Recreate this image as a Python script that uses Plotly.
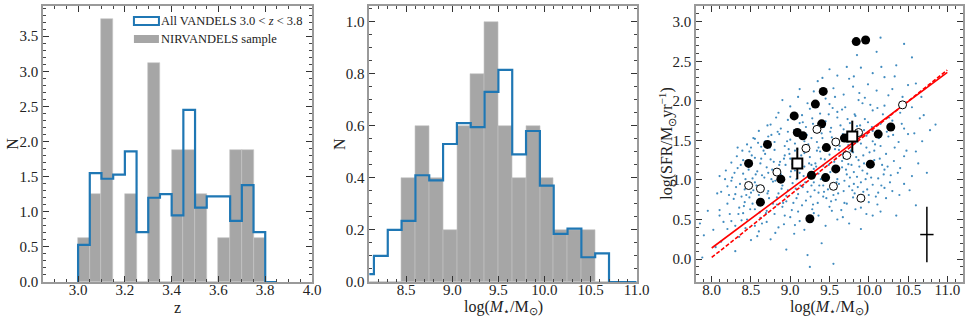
import plotly.graph_objects as go

# ---- panel 1: redshift histograms (bin width 0.05)
z_edges = [3.0, 3.05, 3.1, 3.15, 3.2, 3.25, 3.3, 3.35, 3.4, 3.45, 3.5,
           3.55, 3.6, 3.65, 3.7, 3.75, 3.8, 3.85]
z_nirv = [0.625, 1.25, 3.75, 0.0, 1.25, 0.0, 3.125, 0.0, 1.875, 1.875,
          1.25, 0.0, 0.625, 1.875, 1.875, 0.625, 0.0]
z_all = [0.53, 1.55, 1.47, 1.53, 1.86, 0.71, 1.20, 1.25, 0.95, 2.45,
         1.06, 1.22, 1.22, 0.87, 1.38, 0.71, 0.0]

# ---- panel 2: stellar mass histograms (bin width 0.15)
m_edges = [8.0, 8.15, 8.3, 8.45, 8.6, 8.75, 8.9, 9.05, 9.2, 9.35, 9.5,
           9.65, 9.8, 9.95, 10.1, 10.25, 10.4, 10.55, 10.7, 10.85, 11.0]
m_nirv = [0.0, 0.0, 0.0, 0.4, 0.6, 0.4, 0.2, 0.6, 0.8, 1.0, 0.6,
          0.4, 0.6, 0.4, 0.2, 0.2, 0.2, 0.0, 0.0, 0.0]
m_all = [0.03, 0.10, 0.20, 0.235, 0.41, 0.39, 0.53, 0.61, 0.595, 0.73,
         0.815, 0.49, 0.58, 0.37, 0.185, 0.205, 0.095, 0.11, 0.0, 0.0]

# ---- panel 3: main sequence
# all VANDELS galaxies (log M, log SFR), read off the cloud
cloud = [
    (7.88, 0.02), (9.25, -0.10), (9.55, -0.06), (9.22, 0.05), (8.05, 0.15), (8.30, 0.10), (8.95, 0.12),
    (7.90, 0.30), (8.12, 0.22), (8.35, 0.28), (8.60, 0.35), (8.75, 0.25), (9.05, 0.32), (9.40, 0.20),
    (9.90, 0.38), (8.20, 0.38), (8.50, 0.24),
    (7.85, 0.45), (8.10, 0.55), (8.25, 0.48), (8.40, 0.58), (8.55, 0.42), (8.62, 0.52), (8.70, 0.47),
    (8.80, 0.57), (8.92, 0.44), (9.00, 0.53), (9.12, 0.48), (9.30, 0.58), (9.45, 0.42), (9.60, 0.50),
    (10.05, 0.55), (10.35, 0.55), (8.45, 0.50), (8.85, 0.40), (9.75, 0.45), (8.30, 0.42),
    (8.10, 0.62), (8.20, 0.70), (8.28, 0.76), (8.35, 0.65), (8.42, 0.72), (8.48, 0.78), (8.55, 0.63),
    (8.60, 0.68), (8.65, 0.75), (8.70, 0.61), (8.78, 0.70), (8.83, 0.78), (8.90, 0.66), (8.95, 0.73),
    (9.02, 0.62), (9.08, 0.77), (9.15, 0.68), (9.20, 0.74), (9.28, 0.63), (9.35, 0.71), (9.42, 0.79),
    (9.50, 0.66), (9.58, 0.75), (9.65, 0.62), (9.72, 0.70), (9.80, 0.78), (9.90, 0.65), (10.00, 0.72),
    (10.15, 0.60), (10.60, 0.68), (8.52, 0.70), (9.10, 0.60), (8.38, 0.79),
    (8.12, 0.85), (8.20, 0.92), (8.30, 0.82), (8.36, 0.95), (8.42, 0.88), (8.50, 0.84), (8.55, 0.97),
    (8.60, 0.81), (8.66, 0.90), (8.72, 0.86), (8.78, 0.98), (8.85, 0.83), (8.90, 0.93), (8.97, 0.87),
    (9.03, 0.96), (9.10, 0.82), (9.16, 0.91), (9.22, 0.85), (9.30, 0.97), (9.36, 0.84), (9.42, 0.93),
    (9.48, 0.88), (9.55, 0.81), (9.62, 0.95), (9.68, 0.86), (9.75, 0.92), (9.82, 0.83), (9.90, 0.97),
    (9.98, 0.88), (10.05, 0.94), (10.12, 0.84), (10.20, 0.90), (10.30, 0.86), (10.45, 0.95), (8.25, 0.99),
    (8.95, 0.80), (9.45, 0.99), (9.58, 0.89), (10.00, 0.81),
    (8.10, 1.05), (8.18, 1.12), (8.26, 1.03), (8.33, 1.15), (8.40, 1.08), (8.46, 1.18), (8.52, 1.02),
    (8.58, 1.11), (8.64, 1.06), (8.70, 1.16), (8.76, 1.01), (8.82, 1.13), (8.88, 1.07), (8.94, 1.19),
    (9.00, 1.04), (9.06, 1.12), (9.12, 1.09), (9.18, 1.17), (9.24, 1.03), (9.30, 1.14), (9.36, 1.08),
    (9.42, 1.18), (9.48, 1.05), (9.54, 1.13), (9.60, 1.01), (9.66, 1.16), (9.72, 1.07), (9.78, 1.19),
    (9.85, 1.04), (9.92, 1.12), (9.98, 1.08), (10.05, 1.17), (10.12, 1.02), (10.20, 1.13), (10.28, 1.06),
    (10.40, 1.15), (10.55, 1.05), (8.72, 1.09), (9.27, 1.19), (9.51, 1.10), (9.81, 1.10), (8.43, 1.01),
    (8.25, 1.22), (8.32, 1.30), (8.40, 1.25), (8.48, 1.36), (8.55, 1.28), (8.62, 1.21), (8.68, 1.33),
    (8.75, 1.26), (8.80, 1.38), (8.87, 1.23), (8.93, 1.31), (9.00, 1.27), (9.06, 1.37), (9.12, 1.22),
    (9.18, 1.34), (9.25, 1.29), (9.32, 1.21), (9.38, 1.36), (9.44, 1.26), (9.50, 1.32), (9.56, 1.23),
    (9.62, 1.38), (9.68, 1.28), (9.74, 1.20), (9.80, 1.35), (9.87, 1.25), (9.93, 1.31), (10.00, 1.22),
    (10.07, 1.37), (10.14, 1.27), (10.22, 1.33), (10.32, 1.24), (10.45, 1.30), (10.60, 1.36), (9.03, 1.20),
    (9.47, 1.39), (9.66, 1.24), (8.98, 1.39),
    (8.45, 1.45), (8.55, 1.52), (8.63, 1.42), (8.72, 1.55), (8.80, 1.48), (8.86, 1.58), (8.93, 1.43),
    (9.00, 1.51), (9.06, 1.46), (9.13, 1.57), (9.20, 1.44), (9.27, 1.53), (9.34, 1.48), (9.40, 1.59),
    (9.47, 1.42), (9.53, 1.54), (9.60, 1.47), (9.67, 1.58), (9.74, 1.44), (9.82, 1.52), (9.90, 1.46),
    (9.97, 1.56), (10.05, 1.49), (10.15, 1.43), (10.25, 1.55), (10.38, 1.48), (10.50, 1.58), (9.36, 1.41),
    (9.71, 1.50),
    (8.60, 1.62), (8.75, 1.70), (8.88, 1.65), (8.97, 1.76), (9.05, 1.63), (9.12, 1.72), (9.20, 1.67),
    (9.28, 1.78), (9.35, 1.61), (9.45, 1.74), (9.52, 1.66), (9.60, 1.79), (9.68, 1.64), (9.76, 1.72),
    (9.85, 1.68), (9.95, 1.77), (10.05, 1.62), (10.15, 1.71), (10.30, 1.75), (10.45, 1.65), (10.65, 1.78),
    (10.85, 1.70),
    (8.85, 1.85), (9.00, 1.93), (9.15, 1.82), (9.25, 1.90), (9.38, 1.84), (9.50, 1.96), (9.60, 1.86),
    (9.70, 1.92), (9.82, 1.83), (9.92, 1.97), (10.05, 1.88), (10.20, 1.94), (10.40, 1.85), (10.55, 1.92),
    (10.70, 1.82),
    (9.10, 2.05), (9.30, 2.12), (9.45, 2.03), (9.55, 2.16), (9.68, 2.08), (9.80, 2.18), (9.95, 2.04),
    (10.10, 2.13), (10.25, 2.07), (10.50, 2.20), (9.88, 2.10),
    (9.35, 2.25), (9.60, 2.32), (9.75, 2.28), (9.90, 2.42), (10.05, 2.35), (10.20, 2.30), (10.35, 2.45),
    (10.60, 2.22), (9.50, 2.40),
    (10.15, 2.80), (10.45, 2.72), (10.55, 2.55), (9.85, 2.58), (10.10, 2.62),
    # second pass over the denser core
    (8.57, 0.93), (8.63, 1.27), (8.69, 0.58), (8.74, 1.41), (8.81, 0.99), (8.86, 1.19), (8.91, 0.71),
    (8.96, 1.49), (9.01, 1.11), (9.07, 0.89), (9.11, 1.63), (9.14, 1.31), (9.19, 0.97), (9.23, 1.45),
    (9.26, 0.79), (9.29, 1.71), (9.33, 1.17), (9.37, 0.93), (9.41, 1.53), (9.44, 1.07), (9.49, 1.83),
    (9.52, 0.73), (9.57, 1.39), (9.61, 1.15), (9.64, 1.69), (9.69, 0.99), (9.73, 1.59), (9.77, 1.37),
    (9.83, 1.81), (9.86, 0.91), (9.91, 1.57), (9.94, 1.21), (9.99, 1.73), (10.03, 1.03), (10.08, 1.45),
    (10.11, 1.91), (10.17, 1.19), (10.23, 1.61), (10.27, 0.97), (10.33, 1.41), (8.41, 0.67), (8.47, 1.13),
    (8.53, 0.87), (8.59, 1.47), (8.67, 1.03), (8.73, 0.77), (8.79, 1.23), (8.84, 1.61), (8.89, 0.89),
    (8.99, 1.33), (9.04, 0.71), (9.09, 1.39), (9.17, 1.05), (9.21, 1.57), (9.31, 0.87), (9.39, 1.27),
    (9.46, 0.77), (9.51, 1.61), (9.59, 0.97), (9.63, 1.43), (9.71, 1.13), (9.79, 0.87), (9.84, 1.29),
    (9.89, 1.69), (9.96, 1.01), (10.01, 1.35), (10.09, 0.79), (10.13, 1.53), (10.19, 1.07), (10.26, 1.79),
    (8.37, 1.19), (8.44, 0.81), (8.51, 1.31), (8.56, 1.07), (8.61, 0.59), (8.68, 1.49), (8.77, 1.13),
    (8.83, 0.69), (8.92, 1.27), (8.97, 1.61), (9.04, 1.23), (9.13, 0.93), (9.18, 1.49), (9.24, 1.21),
    (9.29, 0.69), (9.34, 1.37), (9.39, 1.01), (9.43, 1.67), (9.49, 1.19), (9.56, 1.51), (9.61, 0.83),
    (9.67, 1.33), (9.73, 1.77), (9.76, 1.03), (9.83, 1.47), (9.88, 1.17), (9.93, 0.85), (9.97, 1.41),
    (10.04, 1.67), (10.16, 0.93), (8.22, 0.81), (8.29, 1.09), (8.34, 0.57), (8.39, 1.37), (8.46, 0.91),
    (8.53, 1.53), (8.66, 1.37), (8.71, 0.83), (8.76, 1.57), (8.87, 1.09), (9.02, 1.81), (9.08, 1.01),
    (9.16, 1.73), (9.27, 0.93), (9.32, 1.63), (9.43, 0.85), (9.54, 1.91), (9.58, 1.27), (9.66, 1.89),
    (9.69, 0.71), (9.78, 1.61), (9.81, 0.95), (9.87, 2.01), (9.94, 1.63), (10.02, 1.95), (10.07, 1.25),
    (10.18, 1.83), (10.24, 1.17), (10.31, 1.57), (10.37, 1.09), (10.42, 1.71), (10.48, 1.37), (10.52, 0.87),
    (10.58, 1.59), (10.63, 1.21), (10.68, 1.49), (10.74, 1.09), (10.78, 1.63), (10.43, 2.05), (10.30, 2.15),
    (8.15, 0.47), (8.23, 0.57), (8.31, 0.91), (8.43, 0.39), (8.49, 0.63), (8.58, 0.29), (8.64, 0.45),
    (8.81, 0.33), (8.93, 0.55), (9.06, 0.43), (9.18, 0.37), (9.27, 0.47), (9.36, 0.55), (9.53, 0.61),
    (9.67, 0.53), (9.83, 0.63), (9.97, 0.57), (10.11, 0.69), (10.22, 0.77), (10.39, 0.81), (7.95, 0.61),
    (8.02, 0.37), (8.07, 0.83), (8.17, 1.01), (8.33, 1.41), (8.38, 0.49), (8.50, 1.41), (8.71, 1.69),
    (8.82, 1.79), (8.90, 2.01), (9.12, 2.15), (9.22, 1.97), (9.41, 2.29), (9.57, 2.05), (9.72, 2.43),
    (9.81, 2.31), (9.99, 2.21), (10.16, 2.43), (10.33, 2.31), (10.67, 2.05),
]
cloud_mass = [p[0] for p in cloud]
cloud_sfr = [p[1] for p in cloud]

# NIRVANDELS objects: filled and open symbols
filled_mass = [8.47, 8.62, 8.71, 8.88, 9.05, 9.09, 9.16, 9.25, 9.27, 9.32, 9.40,
               9.42, 9.45, 9.46, 9.58, 9.69, 9.73, 9.84, 9.96, 10.02, 10.12, 10.28]
filled_sfr = [1.21, 0.72, 1.45, 1.01, 1.81, 1.60, 1.56, 0.51, 1.06, 1.96, 1.71,
              2.12, 1.03, 1.41, 1.14, 1.53, 1.53, 2.75, 2.77, 1.20, 1.58, 1.67]
open_mass = [8.47, 8.62, 8.83, 9.20, 9.34, 9.55, 9.58, 9.72, 9.87, 9.90, 10.43]
open_sfr = [0.93, 0.89, 1.10, 1.40, 1.64, 0.92, 1.48, 1.31, 1.60, 0.77, 1.95]

# stacked points
stack_mass = [9.09, 9.79]
stack_sfr = [1.21, 1.55]
stack_err = [0.20, 0.20]

# typical uncertainty
err_mass, err_sfr = [10.74], [0.31]
err_dx, err_dy = [0.085], [0.35]

# main-sequence relations
fit_mass = [8.0, 11.0]
fit_solid = [0.14, 2.36]
fit_dashed = [0.02, 2.39]


def step_xy(edges, vals):
    xs = [edges[0]] + edges[:-1] + [edges[-1]]
    ys = [0.0] + vals + [0.0]
    return xs, ys


def centers(edges):
    return [(a + b) / 2 for a, b in zip(edges[:-1], edges[1:])]


GRAY = "#a6a6a6"
BLUE = "#1f77b4"
FONT = "Liberation Serif"
FRAME = "#9a9a9a"
TXT = "#222"

fig = go.Figure()

# panel 1
fig.add_trace(go.Bar(x=centers(z_edges), y=z_nirv, width=0.05,
                     marker=dict(color=GRAY, line=dict(color="#c4c4c4", width=0.6)),
                     xaxis="x", yaxis="y", showlegend=False))
zx, zy = step_xy(z_edges, z_all)
fig.add_trace(go.Scatter(x=zx, y=zy, mode="lines", line_shape="hv",
                         line=dict(color=BLUE, width=2.2),
                         xaxis="x", yaxis="y", showlegend=False))

# panel 2
fig.add_trace(go.Bar(x=centers(m_edges), y=m_nirv, width=0.15,
                     marker=dict(color=GRAY, line=dict(color="#c4c4c4", width=0.6)),
                     xaxis="x2", yaxis="y2", showlegend=False))
mx, my = step_xy(m_edges, m_all)
fig.add_trace(go.Scatter(x=mx, y=my, mode="lines", line_shape="hv",
                         line=dict(color=BLUE, width=2.2),
                         xaxis="x2", yaxis="y2", showlegend=False))

# panel 3
fig.add_trace(go.Scatter(x=cloud_mass, y=cloud_sfr, mode="markers",
                         marker=dict(size=2.2, color=BLUE, opacity=0.85),
                         xaxis="x3", yaxis="y3", showlegend=False))
fig.add_trace(go.Scatter(x=fit_mass, y=fit_solid, mode="lines",
                         line=dict(color="red", width=1.6),
                         xaxis="x3", yaxis="y3", showlegend=False))
fig.add_trace(go.Scatter(x=fit_mass, y=fit_dashed, mode="lines",
                         line=dict(color="red", width=1.6, dash="4px,2px"),
                         xaxis="x3", yaxis="y3", showlegend=False))
fig.add_trace(go.Scatter(x=filled_mass, y=filled_sfr, mode="markers",
                         marker=dict(size=9, color="black"),
                         xaxis="x3", yaxis="y3", showlegend=False))
fig.add_trace(go.Scatter(x=open_mass, y=open_sfr, mode="markers",
                         marker=dict(size=8, color="white", line=dict(color="black", width=1)),
                         xaxis="x3", yaxis="y3", showlegend=False))
fig.add_trace(go.Scatter(x=stack_mass, y=stack_sfr, mode="markers",
                         error_y=dict(type="data", array=stack_err, color="black",
                                      thickness=2, width=0),
                         marker=dict(symbol="square", size=10, color="white",
                                     line=dict(color="black", width=2)),
                         xaxis="x3", yaxis="y3", showlegend=False))
fig.add_trace(go.Scatter(x=err_mass, y=err_sfr, mode="markers",
                         error_x=dict(type="data", array=err_dx, color="black",
                                      thickness=1.5, width=0),
                         error_y=dict(type="data", array=err_dy, color="black",
                                      thickness=1.5, width=0),
                         marker=dict(size=1, color="black"),
                         xaxis="x3", yaxis="y3", showlegend=False))


def ax(domain, rng, dtick, minor, anchor, standoff=0):
    return dict(domain=domain, range=rng, dtick=dtick, tick0=0, tickformat=".1f",
                ticks="inside", ticklen=6, tickwidth=1.2, tickcolor="#333",
                minor=dict(dtick=minor, tick0=0, ticks="inside", ticklen=3,
                           tickwidth=1, tickcolor="#444"),
                showline=True, linecolor=FRAME, linewidth=1.5, mirror="allticks",
                showgrid=False, zeroline=False, anchor=anchor, automargin=False,
                ticklabelstandoff=standoff,
                tickfont=dict(family=FONT, size=15, color=TXT))


fig.update_layout(
    width=969, height=323,
    margin=dict(l=43, r=6, t=6, b=41, autoexpand=False),
    paper_bgcolor="white", plot_bgcolor="white",
    bargap=0,
    xaxis=ax([0.0, 0.2924], [2.85, 4.0], 0.2, 0.05, "y", -7),
    yaxis=ax([0, 1], [0, 3.93], 0.5, 0.1, "x"),
    xaxis2=ax([0.3547, 0.6453], [8.1, 11.0], 0.5, 0.1, "y2", -7),
    yaxis2=ax([0, 1], [0, 1.06], 0.2, 0.05, "x2"),
    xaxis3=ax([0.7098, 1.0], [7.8, 11.2], 0.5, 0.1, "y3", -7),
    yaxis3=ax([0, 1], [-0.29, 3.2], 0.5, 0.1, "x3"),
)

# axis titles (paper coords are relative to the plot area: 920 x 276 px)
mlabel = "log(<i>M</i><sub>⋆</sub>/M<sub>⊙</sub>)"
titles = [
    ("z", 0.1462, -0.094, 0),
    (mlabel, 0.5000, -0.094, 0),
    (mlabel, 0.8549, -0.094, 0),
    ("N", -0.034, 0.5, -90),
    ("N", 0.3217, 0.5, -90),
    ("log(SFR/M<sub>⊙</sub>yr<sup>−1</sup>)", 0.678, 0.5, -90),
]
for text, x, y, ang in titles:
    fig.add_annotation(xref="paper", yref="paper", x=x, y=y, text=text,
                       showarrow=False, textangle=ang,
                       xanchor="center", yanchor="middle",
                       font=dict(family=FONT, size=16, color=TXT))

# legend of panel 1
fig.add_shape(type="rect", xref="x domain", yref="y domain",
              x0=0.338, x1=0.431, y0=0.931, y1=0.960,
              line=dict(color=BLUE, width=2), fillcolor="white")
fig.add_shape(type="rect", xref="x domain", yref="y domain",
              x0=0.338, x1=0.431, y0=0.866, y1=0.895,
              line=dict(width=0), fillcolor=GRAY)
fig.add_annotation(xref="x domain", yref="y domain", x=0.43, y=0.946,
                   text="All VANDELS 3.0 < <i>z</i> < 3.8", showarrow=False,
                   xanchor="left", yanchor="middle",
                   font=dict(family=FONT, size=12.5, color=TXT))
fig.add_annotation(xref="x domain", yref="y domain", x=0.43, y=0.880,
                   text="NIRVANDELS sample", showarrow=False,
                   xanchor="left", yanchor="middle",
                   font=dict(family=FONT, size=12.5, color=TXT))

fig.write_html("out.html", config={"displayModeBar": False},
               post_script="document.body.style.margin='0';")
